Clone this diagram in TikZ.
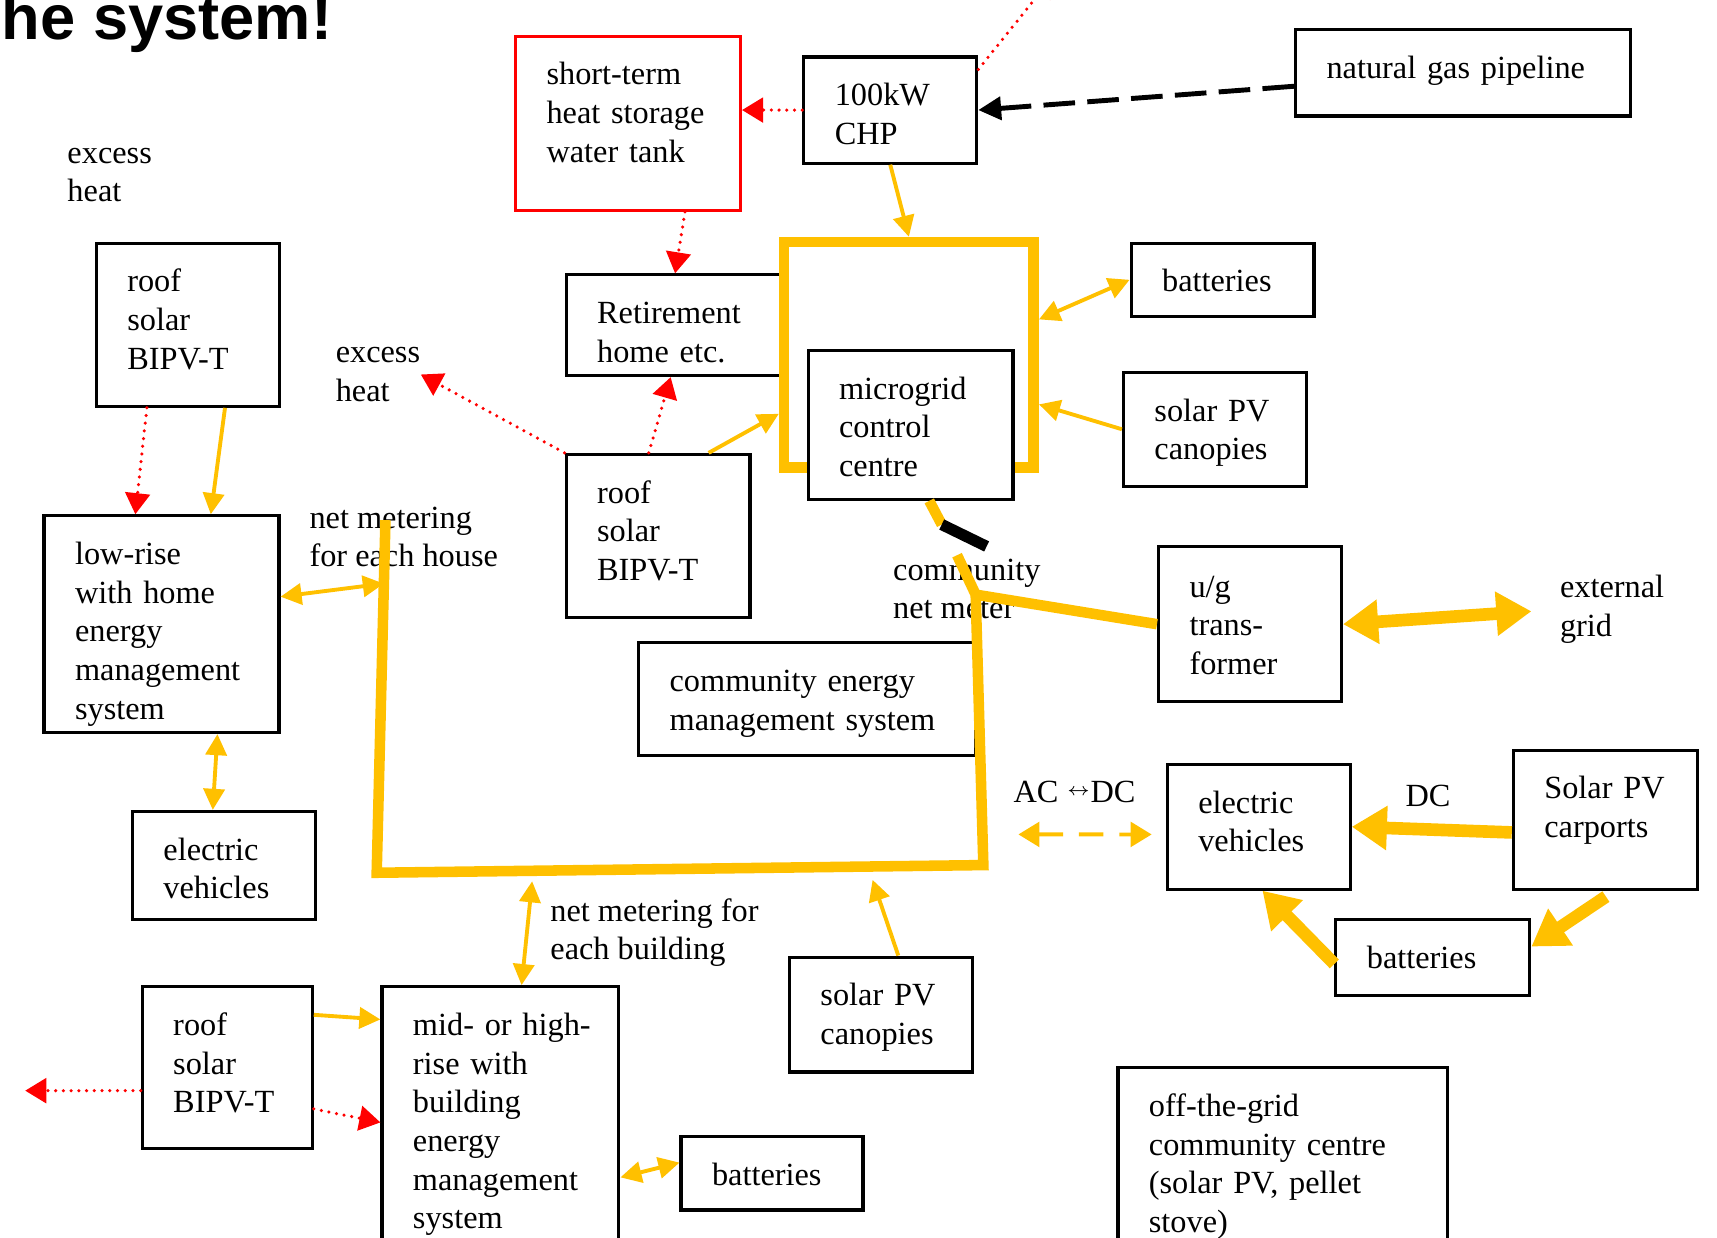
\documentclass[tikz,border=0pt]{standalone}
\usepackage{fontspec}
\setmainfont{Liberation Serif}
\newfontfamily\headfont{Liberation Sans}
\usepackage{xcolor}
\usepackage{tikz}
\usetikzlibrary{positioning, arrows.meta, calc}
\definecolor{gold}{RGB}{255,192,0}
\definecolor{heatred}{RGB}{255,0,0}

\begin{document}
\begin{tikzpicture}[x=0.01095cm, y=-0.01095cm, font=\fontsize{9.2pt}{11pt}\selectfont]
        \tikzstyle{box} = [rectangle, draw, line width=0.9pt, fill=white, align=left, inner xsep=0.31cm, inner ysep=0pt, text height=0.488cm]
        \tikzstyle{tank} = [box, draw=heatred]
        \tikzstyle{note} = [align=left, anchor=west, inner sep=0pt]
        \tikzstyle{power} = [draw=gold, line width=1.1pt, -{Triangle[length=6pt, width=6pt]}]
        \tikzstyle{power2} = [power, {Triangle[length=6pt, width=6pt]}-{Triangle[length=6pt, width=6pt]}]
        \tikzstyle{heat} = [draw=heatred, line width=1pt, line cap=round, dash pattern=on 0pt off 2.2pt, -{Triangle[length=6pt, width=7pt]}]
        \tikzstyle{fuel} = [draw=black, line width=1.4pt, dash pattern=on 9pt off 3.5pt, -{Triangle[length=6.5pt, width=6.5pt]}]
        \tikzstyle{bus} = [draw=gold, line width=3pt]
        \tikzstyle{bigflow} = [draw=gold, line width=3.6pt, -{Triangle[length=10pt, width=12pt]}]
        \tikzstyle{acdclink} = [draw=gold, line width=1.1pt, dash pattern=on 7pt off 4.5pt, {Triangle[length=6pt, width=7pt]}-{Triangle[length=6pt, width=7pt]}]

        \useasboundingbox (0,0) rectangle (1568,1130);

        \node [note, anchor=base west, font=\headfont\bfseries\fontsize{18pt}{18pt}\selectfont] (title) at (1,36) {he system!};
        \node [note] (excessA) at (61,160) {excess\\heat};

        \node [tank, text width=1.63cm, text depth=1.253cm] (tank) at (573.5,112.5) {short-term\\heat storage\\water tank};
        \node [box, text width=1.11cm, text depth=0.574cm] (chp) at (813,100.5) {100kW\\CHP};
        \node [box, text width=2.73cm, text depth=0.377cm] (gas) at (1336,66.5) {natural gas pipeline};
        \node [box, text width=1.56cm, text depth=0.519cm] (retire) at (616.5,297) {Retirement\\home etc.};

        \node [draw=gold, line width=3pt, minimum width=2.497cm, minimum height=2.256cm, inner sep=0pt] (frame) at (830,324) {};
        \node [box, text width=1.43cm, text depth=1.001cm] (mgc) at (831.5,388) {microgrid\\control\\centre};
        \node [box, text width=1.21cm, text depth=0.246cm] (battA) at (1116.5,255.5) {batteries};
        \node [box, text width=1.21cm, text depth=0.651cm] (canopyA) at (1109.5,392) {solar PV\\canopies};

        \node [box, text width=1.21cm, text depth=1.144cm] (roofA) at (171.5,296.5) {roof\\solar\\BIPV-T};
        \node [note] (excessB) at (306,342) {excess\\heat};
        \node [box, text width=1.22cm, text depth=1.144cm] (roofB) at (601,489.5) {roof\\solar\\BIPV-T};
        \node [box, text width=1.73cm, text depth=1.68cm] (lowrise) at (147.5,570) {low-rise\\with home\\energy\\management\\system};
        \node [note] (houseNM) at (282,490.5) {net metering\\for each house};

        \node [note] (meterlbl) at (815,538) {community\\net meter};
        \node [box, text width=1.21cm, text depth=1.047cm, text height=0.508cm] (xfmr) at (1141.5,570) {u/g\\trans-\\former};
        \node [note] (extgrid) at (1424,556.5) {external\\grid};
        \node [box, text width=2.75cm, text depth=0.64cm] (cems) at (737,638.5) {community energy\\management system};

        \node [box, text width=1.21cm, text depth=0.596cm] (evA) at (204.5,790.5) {electric\\vehicles};
        \node [note] (acdc) at (925,723) {AC \raisebox{1.8pt}{$\scriptscriptstyle\leftrightarrow$}DC};
        \node [box, text width=1.21cm, text depth=0.76cm] (evB) at (1149.5,755) {electric\\vehicles};
        \node [note] (dclbl) at (1283,727) {DC};
        \node [box, text width=1.22cm, text depth=0.903cm] (carport) at (1466,748.5) {Solar PV\\carports};
        \node [box, text width=1.32cm, text depth=0.268cm] (battB) at (1308.5,874.5) {batteries};

        \node [note] (bldgNM) at (502,851.5) {net metering for\\each building};
        \node [box, text width=1.21cm, text depth=0.662cm] (canopyB) at (804.5,926.5) {solar PV\\canopies};
        \node [box, text width=1.08cm, text depth=1.133cm] (roofC) at (207.5,975) {roof\\solar\\BIPV-T};
        \node [box, text width=1.75cm, text depth=2.228cm] (midrise) at (457,1025) {\mbox{mid- or high-}\\rise with\\building\\energy\\management\\system};
        \node [box, text width=1.2cm, text depth=0.246cm] (battC) at (705,1071.5) {batteries};
        \node [box, text width=2.68cm, text depth=1.417cm] (offgrid) at (1171.5,1062) {off-the-grid\\community centre\\(solar PV, pellet\\stove)};

        \coordinate (heatup) at (962,-22);
        \coordinate (heatleft) at (23,996);
        \coordinate (busA) at (352,475);
        \coordinate (busB) at (344,797);
        \coordinate (busC) at (898,790);
        \coordinate (busD) at (891,543);
        \coordinate (busE) at (874,507);
        \coordinate (meterA) at (860,479);
        \coordinate (meterB) at (901,499);
        \coordinate (acdcL) at (930,762);

        % heat
        \draw [heat] (chp.west) -- (chp.west -| tank.east);
        \draw [heat] ([yshift=-4pt]chp.north east) -- (heatup);
        \draw [heat] ($(tank.south)!0.5!(tank.south east)$) -- (retire.north);
        \draw [heat] (roofB.north west) -- (excessB.east);
        \draw [heat] ($(roofB.north west)!0.45!(roofB.north east)$) -- ($(retire.south west)!0.48!(retire.south east)$);
        \draw [heat] ($(roofA.south west)!0.28!(roofA.south east)$) -- ($(lowrise.north west)!0.39!(lowrise.north east)$);
        \draw [heat] ($(roofC.east)!0.5!(roofC.south east)$) -- (midrise.west);
        \draw [heat] (roofC.west |- heatleft) -- (heatleft);

        % gas
        \draw [fuel] ($(gas.north west)!0.65!(gas.south west)$) -- (chp.east);

        % electricity
        \draw [power] (chp.south) -- (frame.north);
        \draw [power2] ($(frame.north east)!0.35!(frame.south east)$) -- (battA.west);
        \draw [power] (canopyA.west) -- ($(frame.north east)!0.71!(frame.south east)$);
        \draw [power] ($(roofB.north west)!0.77!(roofB.north east)$) -- ($(frame.north west)!0.75!(frame.south west)$);
        \draw [power] ($(roofA.south west)!0.7!(roofA.south east)$) -- ($(lowrise.north west)!0.707!(lowrise.north east)$);
        \draw [power2] ($(lowrise.north east)!0.375!(lowrise.south east)$) -- ($(busA)!0.18!(busB)$);
        \draw [power2] ($(lowrise.south west)!0.735!(lowrise.south east)$) -- ($(evA.north west)!0.44!(evA.north east)$);
        \draw [power2, shorten <=3pt] ($(busB)!0.258!(busC)$) -- ($(midrise.north west)!0.588!(midrise.north east)$);
        \draw [power, shorten >=4pt] ($(canopyB.north west)!0.593!(canopyB.north east)$) -- ($(busB)!0.81!(busC)$);
        \draw [power] ($(roofC.north east)!0.18!(roofC.south east)$) -- ($(midrise.north west)!0.125!(midrise.south west)$);
        \draw [power2] ($(midrise.north east)!0.7!(midrise.south east)$) -- ($(battC.north west)!0.36!(battC.south west)$);

        % community bus
        \draw [bus] (busA) -- (busB) -- (busC) -- (busD) -- (busE);
        \draw [bus] (busD) -- (xfmr.west);
        \draw [bus] ($(mgc.south west)!0.59!(mgc.south east)$) -- (meterA);
        \draw [line width=3.2pt] (meterA) -- (meterB);

        \draw [bigflow, {Triangle[length=10pt, width=12pt]}-{Triangle[length=10pt, width=12pt]}, shorten >=0.28cm] (xfmr.east) -- (extgrid.west);
        \draw [bigflow] ($(carport.north west)!0.59!(carport.south west)$) -- (evB.east);
        \draw [bigflow, shorten <=3pt] ($(carport.south west)!0.55!(carport.south east)$) -- ($(battB.north east)!0.36!(battB.south east)$);
        \draw [bigflow] ($(battB.north west)!0.58!(battB.south west)$) -- ($(evB.south west)!0.52!(evB.south east)$);
        \draw [acdclink, shorten >=4pt] (acdcL) -- ($(evB.north west)!0.56!(evB.south west)$);
    \end{tikzpicture}
\end{document}
